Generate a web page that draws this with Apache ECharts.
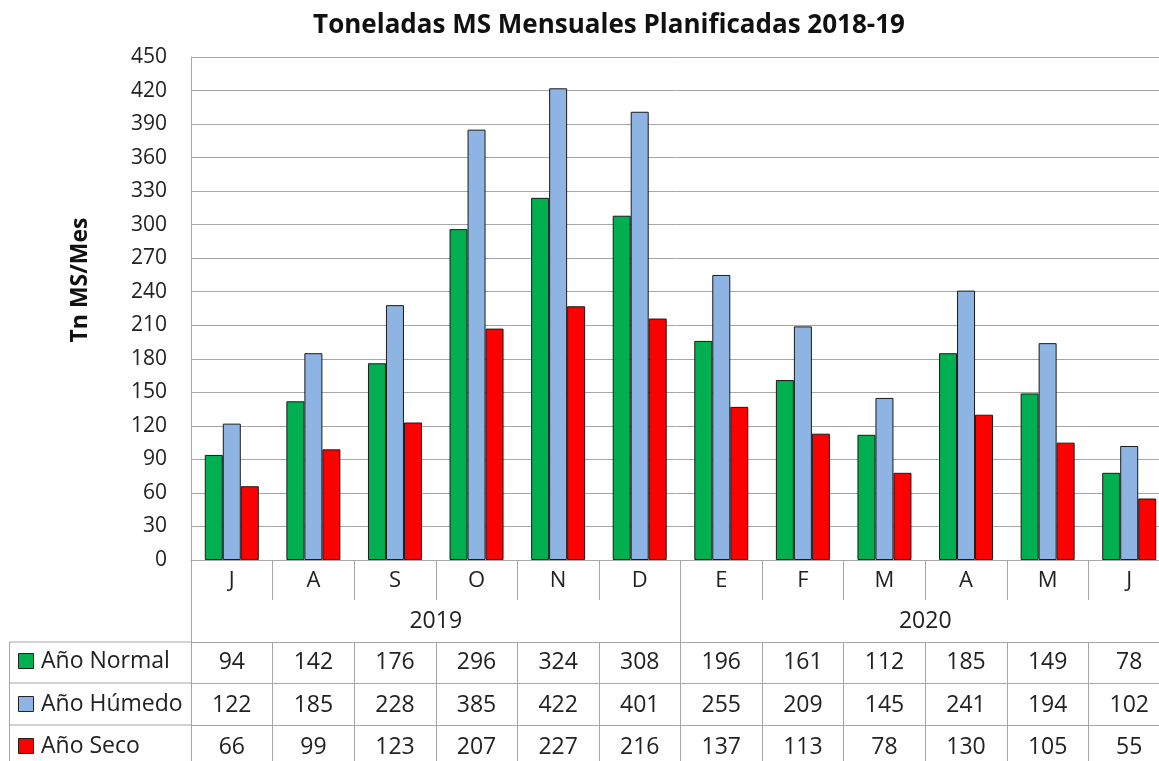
<!DOCTYPE html>
<html><head><meta charset="utf-8">
<script src="https://cdn.jsdelivr.net/npm/echarts@6/dist/echarts.min.js"></script>
<style>html,body{margin:0;padding:0;background:#fff}#c{width:1159px;height:761px}</style>
</head><body><div id="c"></div>
<script>
var months = ['J','A','S','O','N','D','E','F','M','A','M','J'];
var years = ['2019','2020'];
var seriesNames = ['Año Normal','Año Húmedo','Año Seco'];
var normal = [94,142,176,296,324,308,196,161,112,185,149,78];
var humedo = [122,185,228,385,422,401,255,209,145,241,194,102];
var seco = [66,99,123,207,227,216,137,113,78,130,105,55];
var yTicks = {min:0, max:450, step:30};

var colors = ['#00B050','#8DB4E2','#FF0000'];
var grey = '#A6A6A6';
var font = '"Open Sans", sans-serif';
var rows = [normal, humedo, seco];

var GL = 191, GT = 57, GW = 979, GH = 503;
var rowTop = [642, 683, 725];
var rowBottom = 761;
var rowCenter = [661, 704, 746];

var chart = echarts.init(document.getElementById('c'));

var xAxes = [{
  type:'category', data: months, gridIndex:0, position:'bottom',
  axisLine:{lineStyle:{color:grey,width:1}},
  axisTick:{show:true,length:40,lineStyle:{color:grey}},
  axisLabel:{color:'#222',fontSize:22,fontFamily:font,margin:10}
},{
  type:'category', data: years, gridIndex:0, position:'bottom',
  axisLine:{show:false},
  axisTick:{show:true,length:rowTop[0]-(GT+GH),lineStyle:{color:grey}},
  axisLabel:{color:'#222',fontSize:23,fontFamily:font,margin:50}
}];
rows.forEach(function(vals, r){
  var len = (r < 2 ? rowTop[r+1] : rowBottom) - rowTop[r];
  xAxes.push({
    type:'category', data: months, gridIndex:0, position:'bottom',
    offset: rowTop[r] - (GT+GH),
    axisLine:{show:true,lineStyle:{color:grey,width:1}},
    axisTick:{show:true,length:len,lineStyle:{color:grey}},
    axisLabel:{color:'#222',fontSize:23,fontFamily:font,margin:rowCenter[r]-rowTop[r]-10,
      formatter:(function(v){return function(val, idx){return String(v[idx]);};})(vals)}
  });
});

var graphics = [];
graphics.push({type:'line',shape:{x1:9,y1:rowTop[0],x2:GL,y2:rowTop[0]},style:{stroke:grey,lineWidth:1}});
graphics.push({type:'line',shape:{x1:9,y1:rowTop[1],x2:GL,y2:rowTop[1]},style:{stroke:grey,lineWidth:1}});
graphics.push({type:'line',shape:{x1:9,y1:rowTop[2],x2:GL,y2:rowTop[2]},style:{stroke:grey,lineWidth:1}});
graphics.push({type:'line',shape:{x1:9.5,y1:rowTop[0],x2:9.5,y2:rowBottom},style:{stroke:grey,lineWidth:1}});
seriesNames.forEach(function(n, r){
  var cy = rowCenter[r];
  graphics.push({type:'rect',shape:{x:18.5,y:cy-7.5,width:15,height:15},style:{fill:colors[r],stroke:'#222',lineWidth:1}});
  graphics.push({type:'text',x:41,y:cy,style:{text:n,fill:'#222',font:'23px '+font,verticalAlign:'middle'}});
});
graphics.push({type:'text',x:80,y:280,rotation:Math.PI/2,
  style:{text:'Tn MS/Mes',fill:'#111',font:'bold 23px '+font,align:'center',verticalAlign:'middle'}});

chart.setOption({
  animation:false,
  backgroundColor:'#fff',
  title:{text:'Toneladas MS Mensuales Planificadas 2018-19',left:604,textAlign:'center',top:8,
    textStyle:{fontFamily:font,fontWeight:'bold',fontSize:26,color:'#111'}},
  grid:{left:GL,top:GT,width:GW,height:GH,containLabel:false,outerBoundsMode:'none'},
  xAxis: xAxes,
  yAxis:{type:'value',min:yTicks.min,max:yTicks.max,interval:yTicks.step,
    axisLine:{show:true,lineStyle:{color:grey}},
    axisTick:{show:false},
    axisLabel:{color:'#222',fontSize:21,fontFamily:font,margin:24},
    splitLine:{show:true,lineStyle:{color:grey,width:1}}},
  series: rows.map(function(v, i){
    return {name:seriesNames[i],type:'bar',data:v,xAxisIndex:0,barWidth:18,barGap:'0%',
      itemStyle:{color:colors[i],borderColor:'#1a1a1a',borderWidth:1}};
  }),
  graphic: graphics
});
</script></body></html>
